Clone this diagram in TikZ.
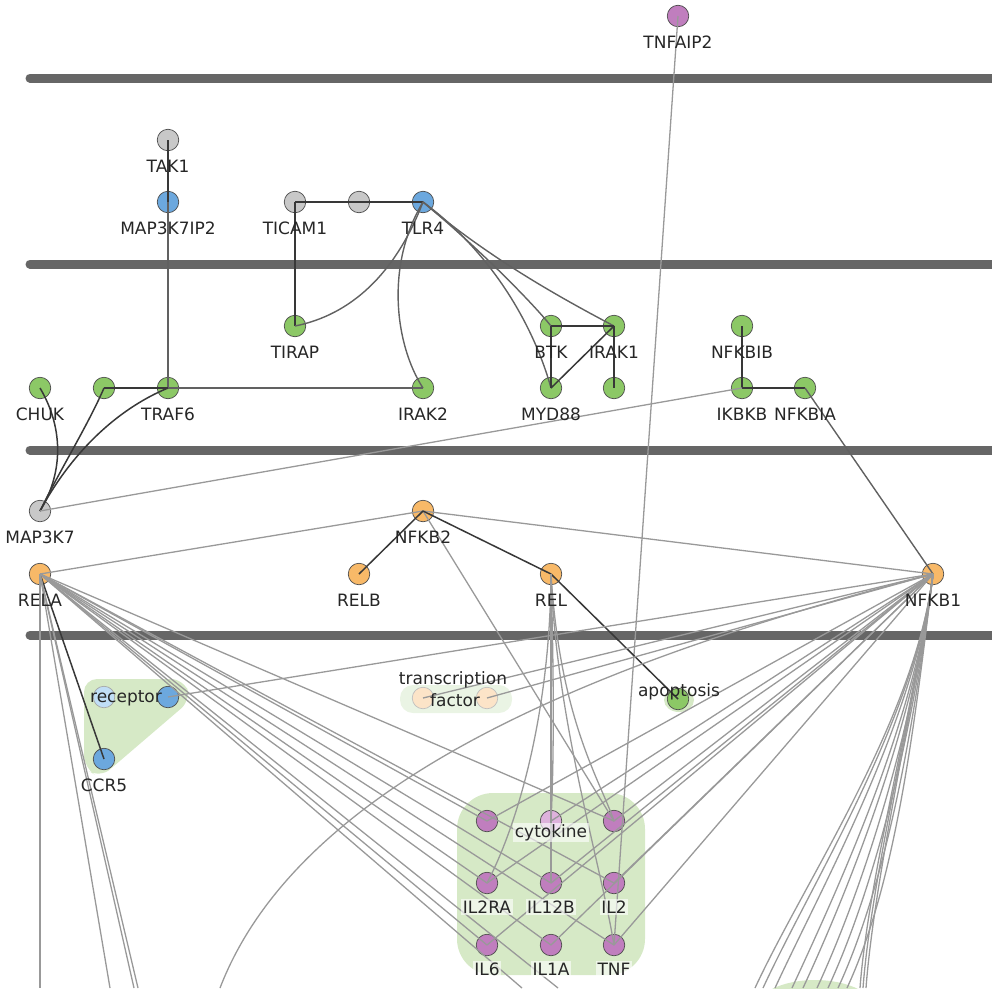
\documentclass[tikz,border=0pt]{standalone}
\usepackage{fontspec}
\setmainfont{DejaVu Sans}
\usetikzlibrary{calc}
\pgfdeclarelayer{bg}\pgfdeclarelayer{nodes}\pgfdeclarelayer{edges}
\pgfsetlayers{bg,nodes,edges,main}
\definecolor{cgreen}{RGB}{140,200,102}
\definecolor{cblue}{RGB}{108,168,222}
\definecolor{cgray}{RGB}{200,200,200}
\definecolor{corange}{RGB}{248,185,104}
\definecolor{cpurple}{RGB}{192,126,190}
\definecolor{cpblue}{RGB}{192,222,246}
\definecolor{cporange}{RGB}{252,228,200}
\definecolor{cppurple}{RGB}{222,178,220}
\definecolor{grpgreen}{RGB}{214,233,198}
\definecolor{grppale}{RGB}{234,244,228}
\definecolor{memc}{RGB}{102,102,102}
\tikzset{
 gnode/.style={circle, draw=black!70, line width=0.7pt, minimum size=21.5pt, inner sep=0pt},
 ng/.style={gnode, fill=cgreen},
 nb/.style={gnode, fill=cblue},
 ny/.style={gnode, fill=cgray},
 no/.style={gnode, fill=corange},
 np/.style={gnode, fill=cpurple},
 npb/.style={gnode, fill=cpblue, draw=black!35},
 npo/.style={gnode, fill=cporange, draw=black!25},
 npp/.style={gnode, fill=cppurple},
 lbl/.style={font=\fontsize{17}{20}\selectfont, text=black!85, anchor=base, inner sep=0pt},
 lblw/.style={lbl, fill=white, fill opacity=0.6, text opacity=1, inner sep=1.5pt},
 dk/.style={draw=black!78, line width=1.5pt},
 md/.style={draw=black!62, line width=1.4pt},
 lt/.style={draw=black!40, line width=1.3pt},
 mem/.style={draw=memc, line width=9pt, line cap=round},
 grp/.style={fill=grpgreen},
 grpp/.style={fill=grppale},
}
\newcommand{\gn}[5]{\node[#4] (#1) at (#2,#3) {};}
\newcommand{\gl}[5]{\node[lbl] (#1-l) at (#2,#3+32.5) {#5};}
\newcommand{\glw}[5]{\node[lblw] (#1-l) at (#2,#3+30) {#5};}
\begin{document}
\begin{tikzpicture}[x=1pt,y=-1pt]
\useasboundingbox (0,0) rectangle (992,988);
% background: groups and membranes
\begin{pgfonlayer}{bg}
\draw[mem] (30,78) -- (1000,78);
\draw[mem] (30,264) -- (1000,264);
\draw[mem] (30,450) -- (1000,450);
\draw[mem] (30,635) -- (1000,635);
\fill[grp, rounded corners=13pt] (84,679) -- (184,679) -- (191,700) -- (100,778) -- (84,768) -- cycle;
\fill[grpp, rounded corners=13pt] (400,685) rectangle (512,713);
\fill[grp] (679,700) ellipse (15 and 12);
\fill[grp, rounded corners=36pt] (457,793) rectangle (645,975);
\fill[grp] (815,1012) ellipse (62 and 32);
\end{pgfonlayer}
% nodes
\begin{pgfonlayer}{nodes}
\gn{TNFAIP2}{678}{16}{np}{}
\gn{TAK1}{168}{140}{ny}{}
\gn{MAP3K7IP2}{168}{202}{nb}{}
\gn{TICAM1}{295}{202}{ny}{}
\node[ny] (g2) at (359,202) {};
\gn{TLR4}{423}{202}{nb}{}
\gn{TIRAP}{295}{326}{ng}{}
\gn{BTK}{551}{326}{ng}{}
\gn{IRAK1}{614}{326}{ng}{}
\gn{NFKBIB}{742}{326}{ng}{}
\gn{CHUK}{40}{388}{ng}{}
\node[ng] (g104) at (104,388) {};
\gn{TRAF6}{168}{388}{ng}{}
\gn{IRAK2}{423}{388}{ng}{}
\gn{MYD88}{551}{388}{ng}{}
\node[ng] (g614) at (614,388) {};
\gn{IKBKB}{742}{388}{ng}{}
\gn{NFKBIA}{805}{388}{ng}{}
\gn{MAP3K7}{40}{511}{ny}{}
\gn{NFKB2}{423}{511}{no}{}
\gn{RELA}{40}{574}{no}{}
\gn{RELB}{359}{574}{no}{}
\gn{REL}{551}{574}{no}{}
\gn{NFKB1}{933}{574}{no}{}
\node[npb] (rec1) at (104,697) {};
\node[nb] (rec2) at (168,697) {};
\gn{CCR5}{104}{759}{nb}{}
\node[npo] (tf1) at (423,698) {};
\node[npo] (tf2) at (487,698) {};
\node[ng] (apop) at (678,699) {};
\node[np] (cyt1) at (487,821) {};
\node[npp] (cyt2) at (551,821) {};
\node[np] (cyt3) at (614,821) {};
\gn{IL2RA}{487}{883}{np}{}
\gn{IL12B}{551}{883}{np}{}
\gn{IL2}{614}{883}{np}{}
\gn{IL6}{487}{945}{np}{}
\gn{IL1A}{551}{945}{np}{}
\gn{TNF}{614}{945}{np}{}
\end{pgfonlayer}
% free ends at the lower border
\coordinate (bA) at (40,988);
\coordinate (bB) at (110,988);
\coordinate (bC) at (134,988);
\coordinate (bD) at (138,988);
\coordinate (bE) at (522,988);
\coordinate (bF) at (558,988);
\coordinate (bG) at (220,988);
% edges
\begin{pgfonlayer}{edges}
\draw[dk] (TAK1.center) -- (MAP3K7IP2.center);
\draw[md] (MAP3K7IP2.center) -- (TRAF6.center);
\draw[dk] (TICAM1.center) -- (g2.center) -- (TLR4.center);
\draw[dk] (TICAM1.center) -- (TIRAP.center);
\draw[md] (TLR4.center) .. controls (395,275) and (350,315) .. (TIRAP.center);
\draw[md] (TLR4.center) .. controls (385,265) and (395,345) .. (IRAK2.center);
\draw[md] (TLR4.center) .. controls (475,245) and (530,300) .. (BTK.center);
\draw[md] (TLR4.center) .. controls (495,255) and (535,330) .. (MYD88.center);
\draw[md] (TLR4.center) .. controls (485,255) and (555,295) .. (IRAK1.center);
\draw[dk] (BTK.center) -- (IRAK1.center);
\draw[dk] (BTK.center) -- (MYD88.center);
\draw[dk] (MYD88.center) -- (IRAK1.center);
\draw[dk] (IRAK1.center) -- (g614.center);
\draw[dk] (NFKBIB.center) -- (IKBKB.center);
\draw[dk] (IKBKB.center) -- (NFKBIA.center);
\draw[dk] (g104.center) -- (TRAF6.center);
\draw[md] (TRAF6.center) -- (IRAK2.center);
\draw[dk] (CHUK.center) .. controls (62,425) and (65,470) .. (MAP3K7.center);
\draw[dk] (g104.center) .. controls (88,425) and (60,470) .. (MAP3K7.center);
\draw[dk] (TRAF6.center) .. controls (115,410) and (70,455) .. (MAP3K7.center);
\draw[lt] (MAP3K7.center) -- (IKBKB.center);
\draw[md] (NFKBIA.center) -- (NFKB1.center);
\draw[lt] (TNFAIP2.center) -- (TNF.center);
\draw[lt] (NFKB2.center) -- (RELA.center);
\draw[lt] (NFKB2.center) -- (NFKB1.center);
\draw[lt] (NFKB2.center) -- (cyt3.center);
\draw[dk] (NFKB2.center) -- (RELB.center);
\draw[dk] (NFKB2.center) -- (REL.center);
\draw[dk] (REL.center) -- (apop.center);
\draw[lt] (REL.center) .. controls (550,720) and (515,830) .. (IL2RA.center);
\draw[lt] (REL.center) .. controls (554,680) and (554,760) .. (cyt2.center);
\draw[lt] (REL.center) -- (IL12B.center);
\draw[lt] (REL.center) .. controls (560,720) and (600,780) .. (cyt3.center);
\draw[lt] (REL.center) .. controls (556,720) and (600,860) .. (TNF.center);
\draw[dk] (RELA.center) -- (CCR5.center);
\foreach \t in {bA,bB,bC,bD,bE,bF,cyt1,cyt3,IL2RA,IL12B,IL2,IL6,IL1A,TNF}
  \draw[lt] (RELA.center) -- (\t.center);
\foreach \t in {rec2,tf1,tf2,cyt1,cyt2,cyt3,IL2RA,IL12B,IL2,IL6,IL1A,TNF}
  \draw[lt] (NFKB1.center) -- (\t.center);
\draw[lt] (NFKB1.center) .. controls (600,660) and (300,780) .. (bG);
\foreach \x in {755,763,775,792,803,817,828,838,847}{
  \coordinate (br\x) at (\x,988);
  \draw[lt] (NFKB1.center) .. controls (915,720) and ({\x+50},880) .. (br\x);
}
\foreach \x in {860,863,866}{
  \coordinate (bs\x) at (\x,988);
  \draw[lt] (NFKB1.center) .. controls (915,700) and ({\x+8},880) .. (bs\x);
}
\end{pgfonlayer}
% labels
\gl{TNFAIP2}{678}{16}{}{TNFAIP2}
\gl{TAK1}{168}{140}{}{TAK1}
\gl{MAP3K7IP2}{168}{202}{}{MAP3K7IP2}
\gl{TICAM1}{295}{202}{}{TICAM1}
\gl{TLR4}{423}{202}{}{TLR4}
\gl{TIRAP}{295}{326}{}{TIRAP}
\gl{BTK}{551}{326}{}{BTK}
\gl{IRAK1}{614}{326}{}{IRAK1}
\gl{NFKBIB}{742}{326}{}{NFKBIB}
\gl{CHUK}{40}{388}{}{CHUK}
\gl{TRAF6}{168}{388}{}{TRAF6}
\gl{IRAK2}{423}{388}{}{IRAK2}
\gl{MYD88}{551}{388}{}{MYD88}
\gl{IKBKB}{742}{388}{}{IKBKB}
\gl{NFKBIA}{805}{388}{}{NFKBIA}
\gl{MAP3K7}{40}{511}{}{MAP3K7}
\gl{NFKB2}{423}{511}{}{NFKB2}
\gl{RELA}{40}{574}{}{RELA}
\gl{RELB}{359}{574}{}{RELB}
\gl{REL}{551}{574}{}{REL}
\gl{NFKB1}{933}{574}{}{NFKB1}
\gl{CCR5}{104}{759}{}{CCR5}
\node[lbl] (recl) at (126,702) {receptor};
\node[lbl] (tfl1) at (453,684) {transcription};
\node[lbl] (tfl2) at (455,706) {factor};
\node[lbl] (apl) at (679,696) {apoptosis};
\node[lblw] (cytl) at (551,837) {cytokine};
\glw{IL2RA}{487}{883}{}{IL2RA}
\glw{IL12B}{551}{883}{}{IL12B}
\glw{IL2}{614}{883}{}{IL2}
\glw{IL6}{487}{945}{}{IL6}
\glw{IL1A}{551}{945}{}{IL1A}
\glw{TNF}{614}{945}{}{TNF}
\end{tikzpicture}
\end{document}
